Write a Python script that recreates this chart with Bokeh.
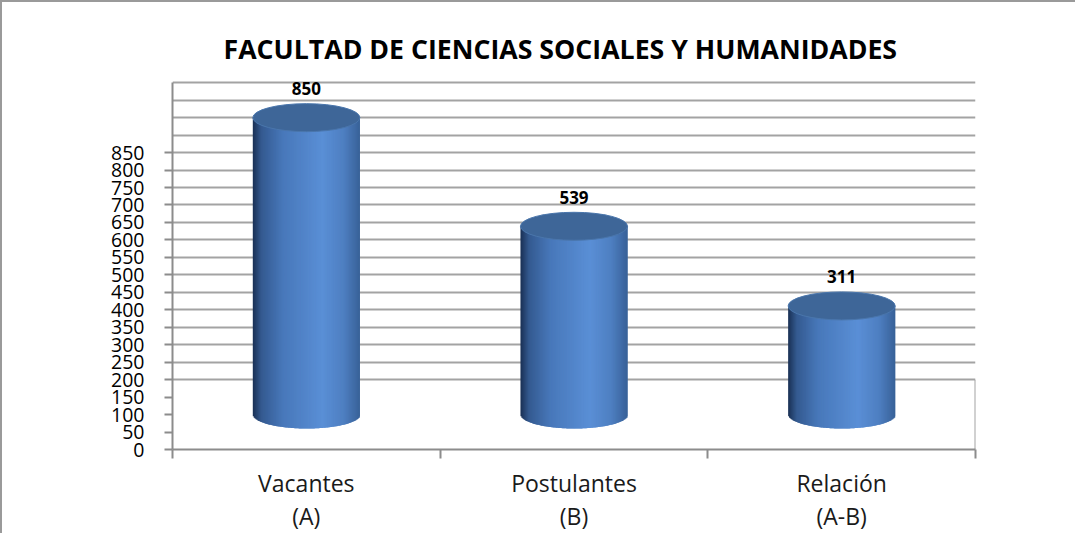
import numpy as np
from bokeh.plotting import figure
from bokeh.models import Range1d, FixedTicker, ColumnDataSource, LabelSet
from bokeh.core.properties import value
from bokeh.embed import file_html
from bokeh.resources import INLINE

# ---- data ----
categories = ["Vacantes\n(A)", "Postulantes\n(B)", "Relación\n(A-B)"]
values = [850, 539, 311]
value_labels = ["850", "539", "311"]
y_ticks = list(range(0, 851, 50))
title_text = "FACULTAD DE CIENCIAS SOCIALES Y HUMANIDADES"

# ---- styling / layout constants ----
W, H = 1075, 533
MB_L, MB_R, MB_T, MB_B = 170, 102, 68, 60
WALL_TOP = 1050      # top of the back wall
Y_MAX = 1085         # a little headroom so the top label is not clipped
WALL_BASE = 200      # back wall gridlines start here (3D perspective look)
BAR_BASE = 100       # cylinders are lifted by the perspective floor
HALF_W = 0.2         # cylinder half width in category units
ELL_H_PX = 28        # ellipse height in pixels
N_STRIPS = 120
FONT = "Open Sans"

px_per_unit = 0.3505
hh = (ELL_H_PX / 2) / px_per_unit

stops_t = [0.0, 0.08, 0.28, 0.65, 0.85, 1.0]
stops_c = [(26, 48, 84), (52, 90, 144), (72, 120, 186), (90, 143, 214), (78, 127, 193), (56, 97, 152)]

def grad(t):
    for j in range(len(stops_t) - 1):
        if stops_t[j] <= t <= stops_t[j + 1]:
            f = (t - stops_t[j]) / (stops_t[j + 1] - stops_t[j])
            c = [int(round(stops_c[j][k] + f * (stops_c[j + 1][k] - stops_c[j][k]))) for k in range(3)]
            return "#%02x%02x%02x" % tuple(c)
    return "#%02x%02x%02x" % stops_c[-1]

p = figure(width=W, height=H, x_range=Range1d(0, len(categories)), y_range=Range1d(0, Y_MAX),
           output_backend="svg", toolbar_location=None,
           min_border_left=MB_L, min_border_right=MB_R, min_border_top=MB_T, min_border_bottom=MB_B)
p.styles = {"border-left": "2px solid #9a9a9a", "border-top": "2px solid #9a9a9a"}
p.outline_line_color = None
p.background_fill_color = "white"

# title
p.title.text = title_text
p.title.text_font = FONT
p.title.text_font_style = "bold"
p.title.text_font_size = "26.7px"
p.title.align = "left"
p.title.offset = 51
p.title.standoff = 7
p.title.text_color = "#000000"

# grid
p.xgrid.visible = False
p.ygrid.ticker = FixedTicker(ticks=list(range(WALL_BASE, WALL_TOP + 1, 50)))
p.ygrid.grid_line_color = "#a3a3a3"
p.ygrid.grid_line_width = 2

# y axis
ya = p.yaxis[0]
ya.ticker = FixedTicker(ticks=y_ticks)
ya.bounds = (0, WALL_TOP)
ya.major_label_text_font = FONT
ya.major_label_text_font_size = "19.5px"
ya.major_label_text_color = "#000000"
ya.major_label_standoff = 20
ya.major_tick_out = 8
ya.major_tick_in = 0
ya.minor_tick_line_color = None
ya.axis_line_color = "#8c8c8c"
ya.axis_line_width = 2
ya.major_tick_line_color = "#8c8c8c"
ya.major_tick_line_width = 2

# x axis
centers = [i + 0.5 for i in range(len(categories))]
xa = p.xaxis[0]
xa.ticker = FixedTicker(ticks=centers, minor_ticks=list(range(len(categories) + 1)))
xa.major_label_overrides = {c: lab for c, lab in zip(centers, categories)}
xa.major_label_text_font = FONT
xa.major_label_text_font_size = "23px"
xa.major_label_text_color = "#1a1a1a"
xa.major_label_text_line_height = 1.05
xa.major_tick_line_color = None
xa.major_tick_out = 0
xa.major_tick_in = 0
xa.major_label_standoff = 8
xa.minor_tick_out = 9
xa.minor_tick_in = 0
xa.minor_tick_line_color = "#8c8c8c"
xa.minor_tick_line_width = 2
xa.axis_line_color = "#8c8c8c"
xa.axis_line_width = 2

# floor box right edge
p.segment(x0=[len(categories)], y0=[0], x1=[len(categories)], y1=[WALL_BASE],
          line_color="#a3a3a3", line_width=2)

# cylinders
L, R, B, T, C = [], [], [], [], []
step = 2 * HALF_W / N_STRIPS
for cx, v in zip(centers, values):
    for k in range(N_STRIPS):
        x0 = cx - HALF_W + k * step
        x1 = min(x0 + 2.0 * step, cx + HALF_W)
        t = (k + 0.5) / N_STRIPS
        dx = 2 * t - 1
        L.append(x0); R.append(x1)
        B.append(BAR_BASE - hh * np.sqrt(max(0.0, 1 - dx * dx)))
        T.append(BAR_BASE + v)
        C.append(grad(t))
src = ColumnDataSource(dict(left=L, right=R, bottom=B, top=T, color=C))
p.quad(left="left", right="right", bottom="bottom", top="top", source=src,
       fill_color="color", line_color=None)

tops = [BAR_BASE + v for v in values]
p.ellipse(x=centers, y=tops, width=2 * HALF_W, height=ELL_H_PX, height_units="screen",
          fill_color="#3e6698", line_color="#4a76ac", line_width=1)

# value labels
lab_src = ColumnDataSource(dict(x=centers, y=tops, text=value_labels))
p.add_layout(LabelSet(x="x", y="y", text="text", source=lab_src, y_offset=29,
                      text_align="center", text_baseline="middle",
                      text_font=value(FONT), text_font_style="bold",
                      text_font_size="17px", text_color="#000000"))

open("out.html", "w").write(file_html(p, INLINE))
